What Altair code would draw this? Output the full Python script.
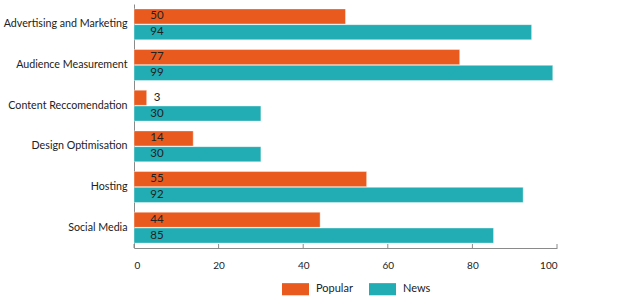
import altair as alt
import pandas as pd

categories = ["Advertising and Marketing", "Audience Measurement", "Content Reccomendation",
              "Design Optimisation", "Hosting", "Social Media"]
popular = [50, 77, 3, 14, 55, 44]
news = [94, 99, 30, 30, 92, 85]
series = ["Popular", "News"]
colors = ["#E95A1F", "#21ADB3"]
tick_values = [0, 20, 40, 60, 80, 100]

rows = []
for c, p, n in zip(categories, popular, news):
    rows.append({"category": c, "series": "Popular", "value": p})
    rows.append({"category": c, "series": "News", "value": n})
df = pd.DataFrame(rows)
ticks_df = pd.DataFrame({"t": tick_values})

W, H = 423, 244
FONT = "Lato"

y_enc = alt.Y("category:N", sort=categories, title=None,
              scale=alt.Scale(paddingInner=0.24, paddingOuter=0.12),
              axis=alt.Axis(ticks=False, domainColor="#8a8a8a", labelFont=FONT, labelFontSize=10.7,
                            labelColor="#222", labelPadding=7, labelLimit=300))
yoff = alt.YOffset("series:N", sort=series, scale=alt.Scale(paddingInner=0.04))
x_scale = alt.Scale(domain=[0, 100], nice=False)

bars = alt.Chart(df).mark_bar(strokeWidth=0.8, strokeOpacity=0.5, stroke="white").encode(
    x=alt.X("value:Q", scale=x_scale, title=None,
            axis=alt.Axis(values=tick_values, ticks=False, grid=False, domainColor="#8a8a8a",
                          labelFont=FONT, labelFontSize=10, labelColor="#222", labelPadding=12)),
    y=y_enc,
    yOffset=yoff,
    color=alt.Color("series:N", sort=series,
                    scale=alt.Scale(domain=series, range=colors),
                    legend=alt.Legend(title=None, orient="none", direction="horizontal",
                                      legendX=148, legendY=271.5,
                                      symbolType="M-1,-0.45L1,-0.45L1,0.45L-1,0.45Z",
                                      symbolSize=729, symbolOpacity=1, symbolStrokeWidth=0,
                                      labelFont=FONT, labelFontSize=11, labelColor="#222",
                                      columnPadding=16, labelOffset=7)),
)

labels = alt.Chart(df).mark_text(font=FONT, fontSize=11.5, color="#222", align="center",
                                 baseline="middle").encode(
    x=alt.value(23),
    y=alt.Y("category:N", sort=categories),
    yOffset=yoff,
    text="value:Q",
)

tick_marks = alt.Chart(ticks_df).mark_rule(color="#8a8a8a", strokeWidth=1).encode(
    x=alt.X("t:Q", scale=x_scale),
    y=alt.value(H - 4),
    y2=alt.value(H),
)

chart = alt.layer(bars, labels, tick_marks).properties(
    width=W, height=H,
    padding={"left": 134, "top": 4, "right": 67, "bottom": 50},
    autosize=alt.AutoSizeParams(type="none"),
).configure_view(stroke=None)

chart.save("out.html", embed_options={"renderer": "svg", "actions": False})
